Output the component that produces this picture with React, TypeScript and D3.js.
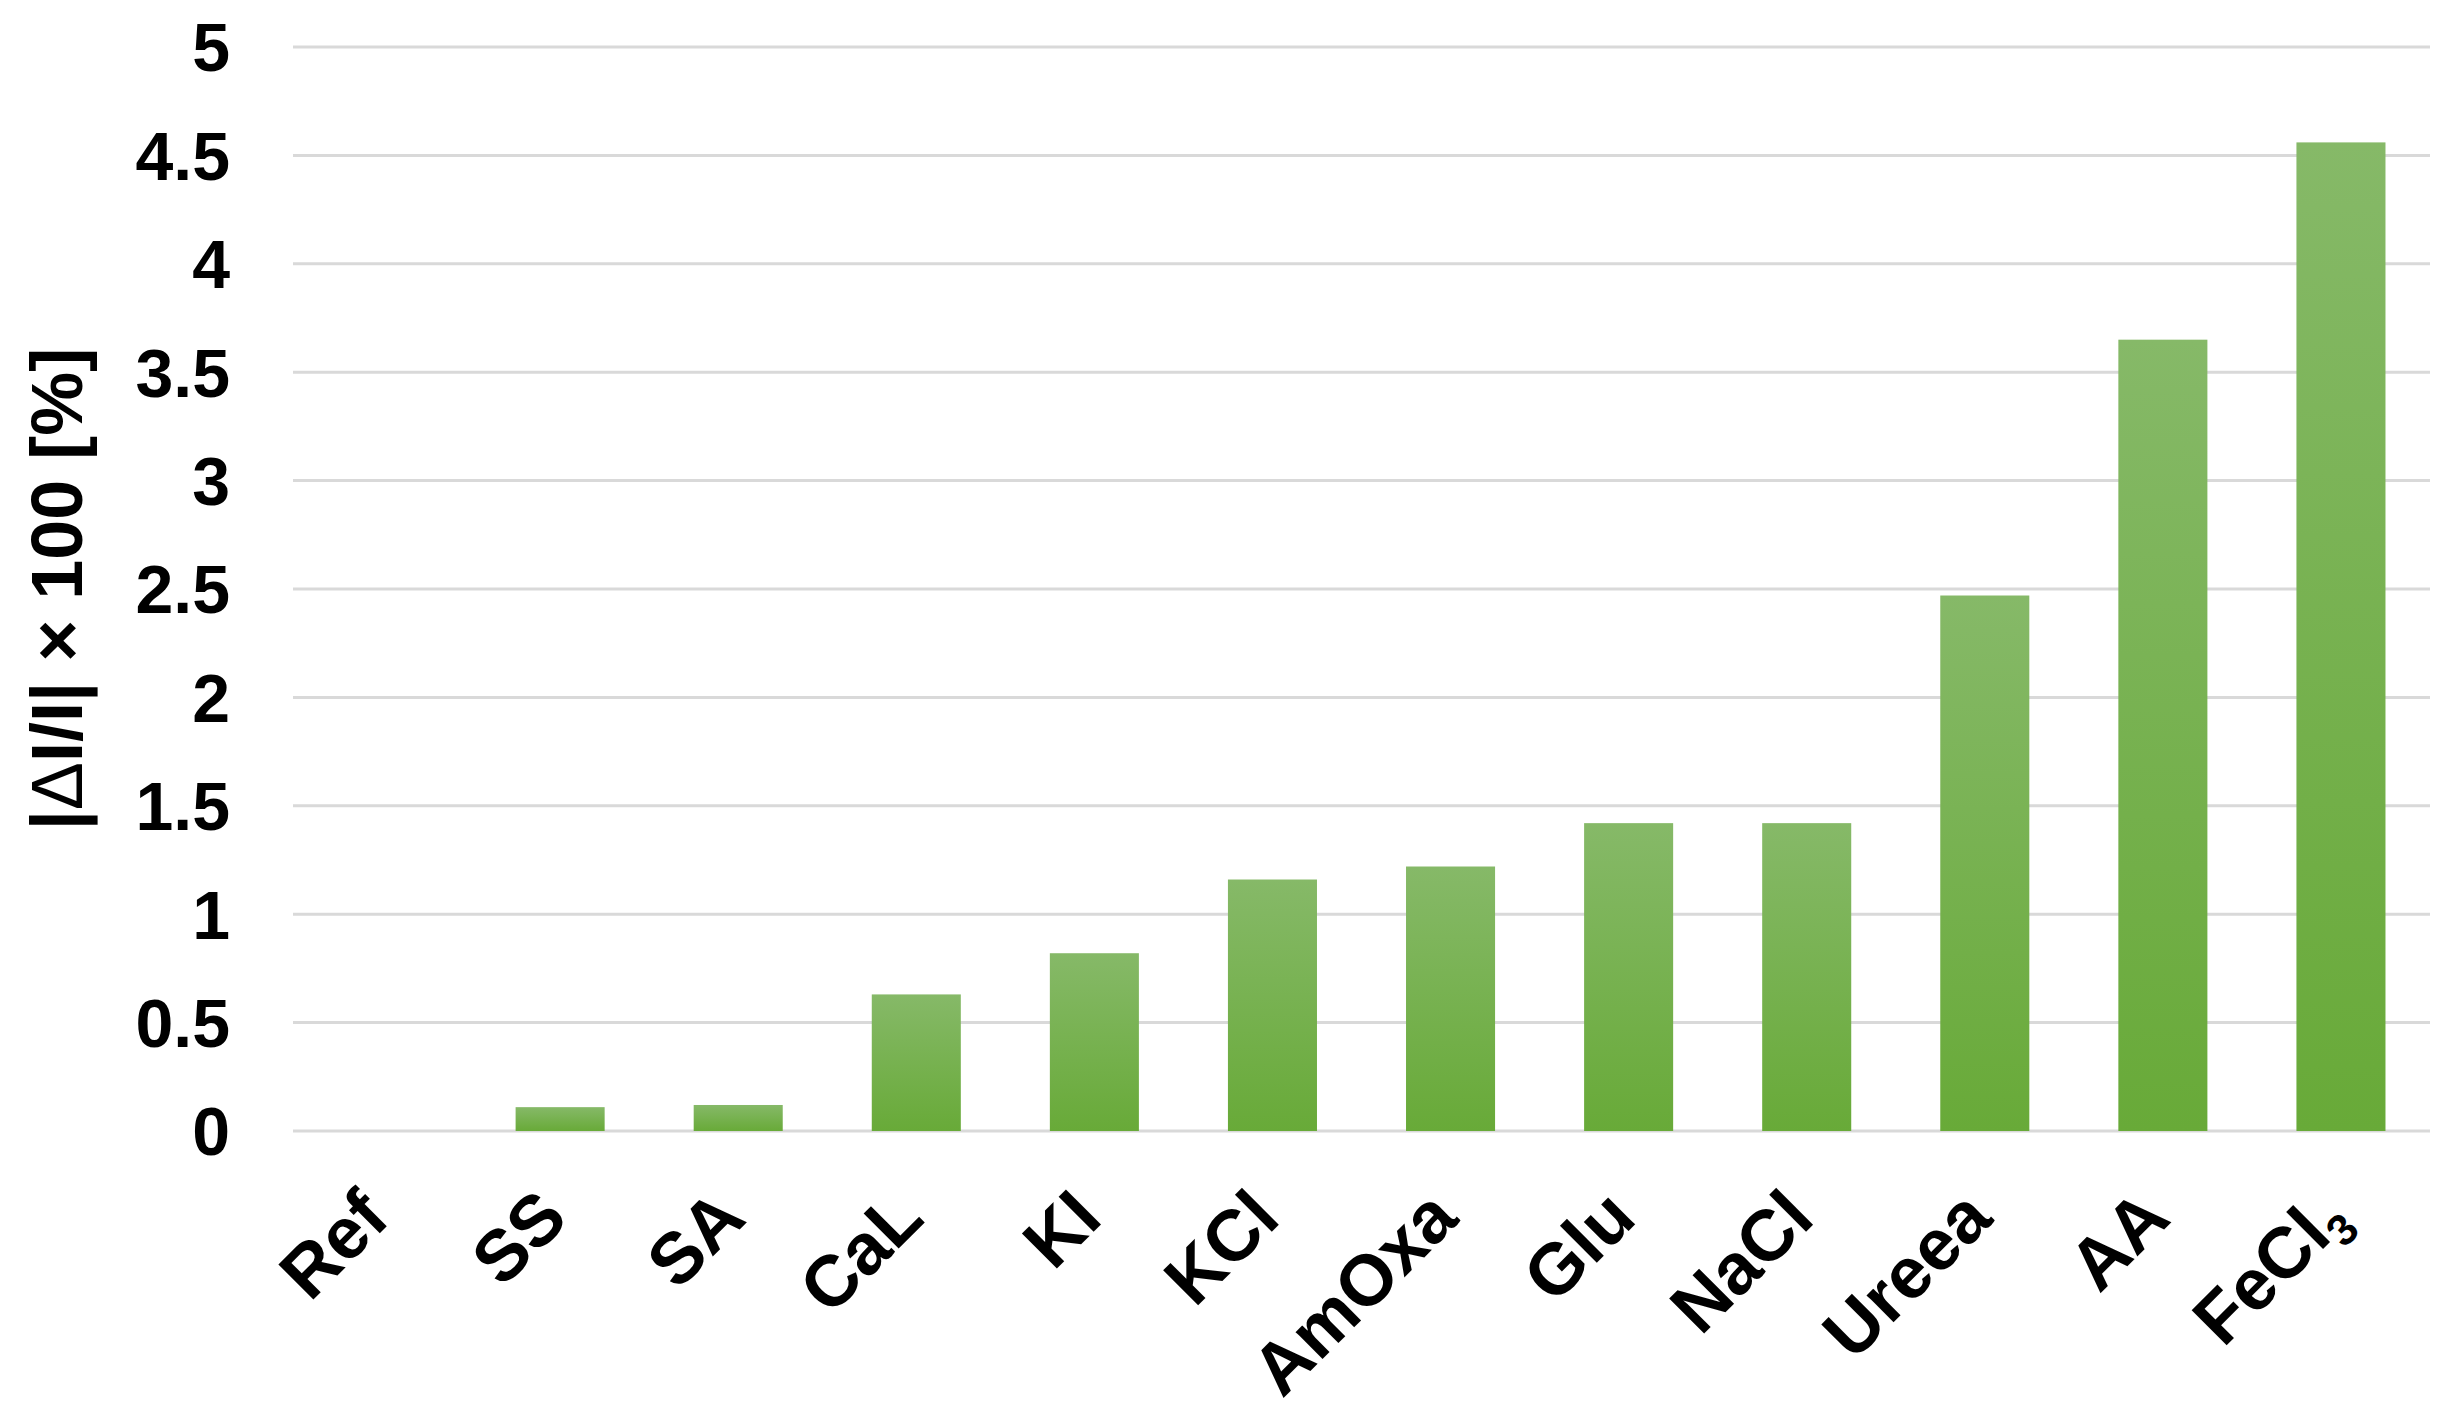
import React from 'react'
import { scaleBand, scaleLinear } from 'd3'

const categories = ['Ref', 'SS', 'SA', 'CaL', 'KI', 'KCl', 'AmOxa', 'Glu', 'NaCl', 'Ureea', 'AA', 'FeCl3']
const values = [0, 0.11, 0.12, 0.63, 0.82, 1.16, 1.22, 1.42, 1.42, 2.47, 3.65, 4.56]
const yTicks = [0, 0.5, 1, 1.5, 2, 2.5, 3, 3.5, 4, 4.5, 5]

const width = 2447
const height = 1414
const margin = { top: 47, right: 17, bottom: 283, left: 293 }
const font = '"Liberation Sans", Arial, sans-serif'

// chemical names: trailing digits become a subscript
const Label = ({ name }: { name: string }) => {
    const m = name.match(/^(.*?)(\d+)$/)
    if (!m) return <>{name}</>
    return (
        <>
            {m[1]}
            <tspan fontSize={44} dy={15}>{m[2]}</tspan>
        </>
    )
}

const App = () => {
    const x = scaleBand().domain(categories).range([margin.left, width - margin.right]).paddingInner(0.5).paddingOuter(0.25)
    const y = scaleLinear().domain([0, 5]).range([height - margin.bottom, margin.top])
    const y0 = y(0)

    return (
        <svg width={width} height={height} style={{ position: 'absolute', left: 0, top: 0, background: '#fff' }}>
            <defs>
                <linearGradient id="barFill" x1="0" y1="0" x2="0" y2="1">
                    <stop offset="0%" stopColor="#86b968" />
                    <stop offset="100%" stopColor="#68aa38" />
                </linearGradient>
            </defs>

            {yTicks.map(t =>
                <g key={'t' + t}>
                    <line x1={margin.left} x2={width - margin.right} y1={y(t)} y2={y(t)} stroke="#d9d9d9" strokeWidth={3} />
                    <text x={230} y={y(t)} dy="0.36em" textAnchor="end" fontFamily={font} fontWeight="bold" fontSize={68} fill="#000">{String(t)}</text>
                </g>
            )}

            {categories.map((c, i) =>
                values[i] > 0 &&
                <rect key={c} x={x(c)} width={x.bandwidth()} y={y(values[i])} height={y0 - y(values[i])} fill="url(#barFill)" />
            )}

            {categories.map(c => {
                const cx = (x(c) as number) + x.bandwidth() / 2 + 10
                const cy = y0 + 90
                return (
                    <text key={'l' + c} x={cx} y={cy} transform={`rotate(-45 ${cx} ${cy})`} textAnchor="end"
                        fontFamily={font} fontWeight="bold" fontSize={72} fill="#000">
                        <Label name={c} />
                    </text>
                )
            })}

            <text transform={`translate(82 ${(y(0) + y(5)) / 2}) rotate(-90)`} textAnchor="middle"
                fontFamily={font} fontWeight="bold" fontSize={72} fill="#000">
                |<tspan fontWeight="normal">{'\u0394'}</tspan>I/I| {'\u00d7'} 100 [%]
            </text>
        </svg>
    )
}

export default App
